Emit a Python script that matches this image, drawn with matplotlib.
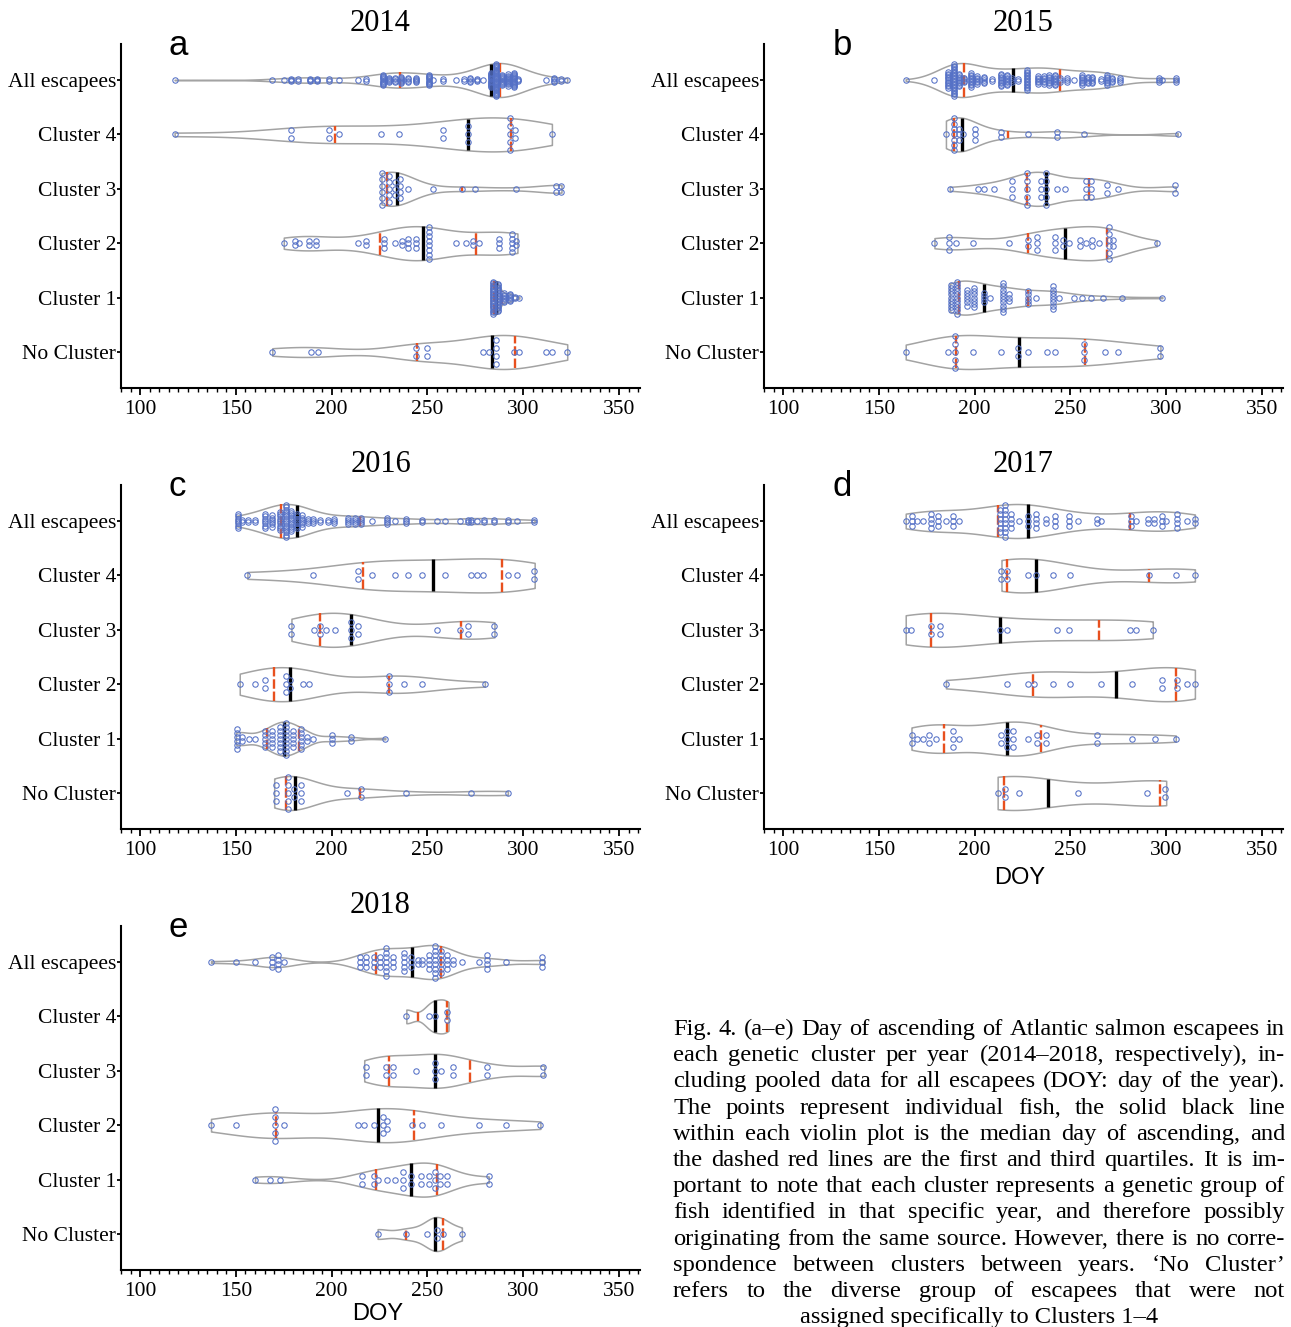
import numpy as np
import matplotlib
matplotlib.use("Agg")
import matplotlib.pyplot as plt
from matplotlib.ticker import MultipleLocator, FixedLocator

W, H, DPI = 1291, 1327, 100

categories = ["All escapees", "Cluster 4", "Cluster 3", "Cluster 2", "Cluster 1", "No Cluster"]
years = ["2014", "2015", "2016", "2017", "2018"]
letters = ["a", "b", "c", "d", "e"]
xtick_values = [100, 150, 200, 250, 300, 350]

# ---- day of ascending (DOY) per fish, per cluster and year ----
c4_2014 = [118, 178, 180, 198, 199, 204, 226, 235, 258, 258, 271, 271, 271, 292, 293, 293, 294, 294, 295, 296, 315]
c3_2014 = [226, 226, 226, 226, 227, 227, 229, 229, 230, 230, 231, 232, 233, 234, 235, 235, 236, 236, 240,
           253, 268, 275, 296, 317, 317, 320, 320]
c2_2014 = [175, 180, 182, 183, 188, 188, 192, 192, 214, 217, 219, 227, 228, 228, 233, 236, 237, 239, 239, 241,
           243, 244, 245, 250, 250, 250, 251, 251, 252, 252, 252, 265, 270, 273, 275, 277, 287, 287, 288, 293,
           293, 295, 295, 295, 296, 297]
c1_2014 = [283, 283, 283, 283, 283, 284, 284, 284, 284, 284, 284, 284, 284, 285, 285, 285, 285, 285, 285, 285,
           285, 285, 286, 286, 286, 286, 286, 286, 286, 286, 286, 287, 287, 287, 287, 287, 287, 288, 288, 288,
           288, 289, 289, 289, 290, 290, 291, 291, 292, 292, 293, 293, 294, 294, 295, 296, 298]
nc_2014 = [169, 189, 193, 243, 245, 250, 250, 279, 282, 285, 287, 287, 287, 295, 298, 312, 315, 323]

c4_2015 = [185, 188, 188, 189, 189, 189, 190, 190, 191, 192, 193, 194, 199, 200, 201, 213, 214, 228, 242, 244,
           257, 306]
c3_2015 = [187, 202, 205, 210, 219, 219, 220, 227, 228, 228, 228, 228, 234, 234, 235, 237, 237, 237, 237, 237,
           243, 247, 257, 258, 259, 260, 261, 261, 268, 270, 275, 304, 305]
c2_2015 = [179, 186, 187, 187, 190, 199, 218, 228, 228, 232, 232, 233, 241, 243, 243, 245, 247, 249, 255, 255,
           258, 261, 262, 265, 269, 269, 269, 269, 271, 271, 272, 272, 295]
c1_2015 = [187, 187, 187, 187, 187, 188, 188, 188, 188, 190, 190, 190, 190, 190, 192, 192, 192, 192, 192, 192,
           195, 195, 195, 197, 197, 197, 199, 199, 199, 199, 200, 200, 200, 204, 204, 204, 206, 208, 214, 214,
           214, 214, 214, 214, 216, 216, 216, 216, 218, 218, 218, 228, 228, 228, 228, 228, 232, 240, 240, 240,
           240, 240, 240, 242, 242, 244, 252, 256, 261, 267, 277, 298]
nc_2015 = [164, 186, 189, 190, 190, 190, 190, 199, 214, 222, 223, 228, 238, 242, 256, 257, 258, 268, 275, 297, 297]

c4_2016 = [156, 190, 213, 215, 221, 233, 240, 247, 259, 273, 276, 279, 292, 297, 305, 306]
c3_2016 = [179, 179, 191, 194, 194, 197, 202, 209, 209, 211, 213, 215, 255, 267, 270, 272, 285, 285]
c2_2016 = [152, 160, 165, 165, 175, 177, 177, 178, 178, 185, 188, 230, 230, 230, 238, 247, 280]
c1_2016 = [150, 150, 150, 151, 151, 151, 153, 153, 157, 160, 164, 164, 166, 166, 166, 168, 168, 168, 170, 170,
           172, 172, 172, 174, 174, 174, 174, 175, 175, 175, 175, 175, 177, 177, 177, 177, 179, 179, 179, 181,
           181, 183, 183, 183, 185, 185, 185, 187, 187, 190, 199, 200, 201, 209, 211, 228]
nc_2016 = [170, 172, 172, 176, 176, 176, 178, 178, 180, 181, 183, 184, 185, 208, 215, 216, 239, 273, 292]

c4_2017 = [214, 214, 217, 217, 228, 232, 241, 250, 291, 305, 315]
c3_2017 = [164, 167, 176, 178, 182, 182, 213, 217, 243, 249, 281, 284, 293]
c2_2017 = [185, 217, 228, 231, 241, 250, 266, 282, 297, 299, 305, 306, 311, 315]
c1_2017 = [167, 168, 170, 173, 176, 176, 180, 188, 188, 189, 192, 213, 214, 216, 217, 218, 220, 220, 220, 228,
           232, 233, 236, 238, 263, 265, 282, 294, 305]
nc_2017 = [212, 215, 217, 223, 254, 290, 299, 300]

c4_2018 = [239, 251, 254, 259, 261]
c3_2018 = [217, 219, 228, 229, 231, 233, 244, 253, 254, 255, 257, 263, 264, 280, 282, 310, 311]
c2_2018 = [137, 150, 170, 170, 171, 171, 171, 175, 214, 217, 222, 226, 228, 228, 229, 229, 242, 247, 257, 277,
           291, 309]
c1_2018 = [160, 168, 173, 216, 216, 221, 223, 224, 229, 233, 237, 238, 238, 241, 242, 246, 247, 250, 252, 253,
           254, 255, 256, 257, 260, 260, 282, 282]
nc_2018 = [224, 239, 250, 254, 256, 258, 268]

year_data = {
    "2014": {"Cluster 4": c4_2014, "Cluster 3": c3_2014, "Cluster 2": c2_2014, "Cluster 1": c1_2014, "No Cluster": nc_2014},
    "2015": {"Cluster 4": c4_2015, "Cluster 3": c3_2015, "Cluster 2": c2_2015, "Cluster 1": c1_2015, "No Cluster": nc_2015},
    "2016": {"Cluster 4": c4_2016, "Cluster 3": c3_2016, "Cluster 2": c2_2016, "Cluster 1": c1_2016, "No Cluster": nc_2016},
    "2017": {"Cluster 4": c4_2017, "Cluster 3": c3_2017, "Cluster 2": c2_2017, "Cluster 1": c1_2017, "No Cluster": nc_2017},
    "2018": {"Cluster 4": c4_2018, "Cluster 3": c3_2018, "Cluster 2": c2_2018, "Cluster 1": c1_2018, "No Cluster": nc_2018},
}
for yr in years:
    year_data[yr]["All escapees"] = sum((list(year_data[yr][c]) for c in categories[1:]), [])

caption_lines = [
    "Fig. 4. (a\u2013e) Day of ascending of Atlantic salmon escapees in",
    "each genetic cluster per year (2014\u20132018, respectively), in-",
    "cluding pooled data for all escapees (DOY: day of the year).",
    "The points represent individual fish, the solid black line",
    "within each violin plot is the median day of ascending, and",
    "the dashed red lines are the first and third quartiles. It is im-",
    "portant to note that each cluster represents a genetic group of",
    "fish identified in that specific year, and therefore possibly",
    "originating from the same source. However, there is no corre-",
    "spondence between clusters between years. \u2018No Cluster\u2019",
    "refers to the diverse group of escapees that were not",
    "assigned specifically to Clusters 1\u20134",
]

# ---- styling ----
plt.rcParams["font.family"] = ["Liberation Serif", "DejaVu Serif"]
SANS = ["Liberation Sans", "DejaVu Sans"]
VIOLIN_EDGE = "#a3a3a3"
DOT = "#5470c6"
RED = "#e8501e"
PX_PER_UNIT = 54.4          # vertical pixels per category step
HALF_W = 17.0 / PX_PER_UNIT  # max half width of every violin
DOT_BIN = 2.6               # days, dot diameter for stacking


def nrd0(x):
    n = len(x)
    sd = np.std(x, ddof=1)
    q75, q25 = np.percentile(x, [75, 25])
    iqr = (q75 - q25) / 1.34
    lo = min(sd, iqr) if iqr > 0 else sd
    if lo <= 0:
        lo = 1.0
    return 0.9 * lo * n ** -0.2


def dot_positions(vals, pos):
    v = np.sort(np.asarray(vals, float))
    xs, counts = [], []
    i = 0
    while i < len(v):
        j = i
        while j + 1 < len(v) and v[j + 1] - v[i] < DOT_BIN:
            j += 1
        xs.append((v[i] + v[j]) / 2)
        counts.append(j - i + 1)
        i = j + 1
    kmax = max(counts)
    sp = 8.0 if kmax <= 2 else min(8.0, 32.0 / (kmax - 1))
    px, py = [], []
    for xc, c in zip(xs, counts):
        for k in range(c):
            px.append(xc)
            py.append(pos + (k - (c - 1) / 2) * sp / PX_PER_UNIT)
    return px, py


def draw_group(ax, vals, pos):
    v = np.asarray(vals, float)
    bw = nrd0(v)
    grid = np.linspace(v.min(), v.max(), 512)
    dens = np.exp(-0.5 * ((grid[:, None] - v[None, :]) / bw) ** 2).sum(axis=1)
    hw = dens / dens.max() * HALF_W
    ax.fill_between(grid, pos - hw, pos + hw, facecolor="white", edgecolor=VIOLIN_EDGE,
                    linewidth=1.1, zorder=2)
    q1, med, q3 = np.percentile(v, [25, 50, 75], method="weibull")
    for q, col, ls, lw in [(q1, RED, (0, (4, 1.2)), 1.7), (q3, RED, (0, (4, 1.2)), 1.7),
                           (med, "black", "-", 2.4)]:
        h = np.interp(q, grid, hw)
        ax.plot([q, q], [pos - h, pos + h], color=col, lw=lw, linestyle=ls,
                solid_capstyle="butt", dash_capstyle="butt", zorder=3)
    px, py = dot_positions(v, pos)
    ax.plot(px, py, linestyle="none", marker="o", ms=3.9, mfc="none", mec=DOT, mew=0.75, zorder=4)


fig = plt.figure(figsize=(W / DPI, H / DPI), dpi=DPI)
panel_px = {"2014": (121, 44), "2015": (764, 44), "2016": (121, 485), "2017": (764, 485), "2018": (121, 926)}
letter_x = {"a": 0.092, "b": 0.132, "c": 0.092, "d": 0.132, "e": 0.092}
AXW, AXH = 519, 344

for yr, let in zip(years, letters):
    l, t = panel_px[yr]
    ax = fig.add_axes([l / W, 1 - (t + AXH) / H, AXW / W, AXH / H])
    for idx, cat in enumerate(categories):
        draw_group(ax, year_data[yr][cat], len(categories) - 1 - idx)
    ax.set_xlim(90, 361)
    ax.set_ylim(-0.662, 5.662)
    ax.set_yticks(range(len(categories)))
    ax.set_yticklabels(categories[::-1])
    ax.xaxis.set_major_locator(FixedLocator(xtick_values))
    ax.xaxis.set_minor_locator(MultipleLocator(5))
    for s in ("top", "right"):
        ax.spines[s].set_visible(False)
    for s in ("left", "bottom"):
        ax.spines[s].set_linewidth(1.5)
    ax.tick_params(axis="x", which="major", length=5, width=1.3, direction="out", pad=3.5, labelsize=15.5)
    ax.tick_params(axis="x", which="minor", length=3, width=1.0, direction="out")
    ax.tick_params(axis="y", length=3, width=1.3, direction="out", pad=0.5, labelsize=15.5)
    ax.set_title(yr, fontsize=22, pad=9.5)
    ax.text(letter_x[let], 0.968, let, transform=ax.transAxes, fontsize=25, family=SANS,
            va="baseline", ha="left")

fig.text(1020 / W, 1 - 878 / H, "DOY", fontsize=17, family=SANS, ha="center", va="center")
fig.text(378 / W, 1 - 1314 / H, "DOY", fontsize=17, family=SANS, ha="center", va="center")

# ---- justified caption ----
renderer = fig.canvas.get_renderer()
cap_left, cap_right = 673.0, 1285.0
base_size = 15.0
probe = [fig.text(0, 0, ln, fontsize=base_size) for ln in caption_lines[:-1]]
natural = max(p.get_window_extent(renderer).width for p in probe)
for p in probe:
    p.remove()
cap_size = base_size * (cap_right - cap_left - 6) / natural

n_lines = len(caption_lines)
for i, line in enumerate(caption_lines):
    yb = 1 - (1035 + 26.2 * i) / H
    if i == n_lines - 1:
        fig.text((cap_left + cap_right) / 2 / W, yb, line, fontsize=cap_size, ha="center", va="baseline")
        continue
    words = line.split()
    ts = [fig.text(0, yb, w, fontsize=cap_size, ha="left", va="baseline") for w in words]
    ws = [t.get_window_extent(renderer).width for t in ts]
    gap = (cap_right - cap_left - sum(ws)) / (len(words) - 1)
    x = cap_left
    for t, w in zip(ts, ws):
        t.set_x(x / W)
        x += w + gap

fig.savefig("out.png", dpi=DPI)
